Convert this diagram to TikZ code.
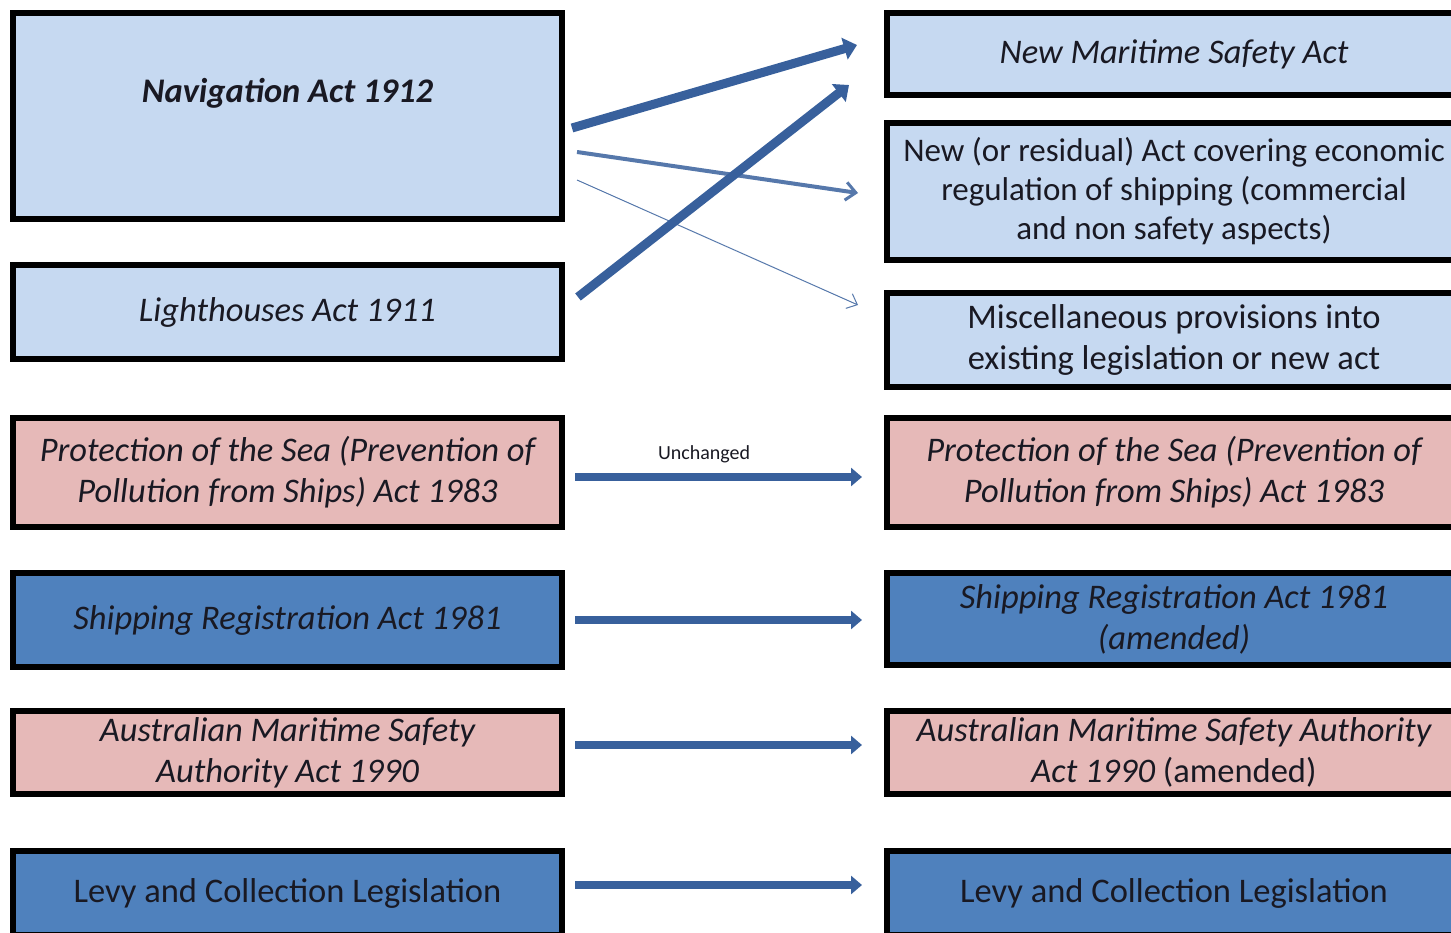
\documentclass[tikz,border=0pt]{standalone}
\usepackage{fontspec}
\setmainfont{Carlito}
\usetikzlibrary{arrows.meta}
\definecolor{paleblue}{RGB}{198,217,241}
\definecolor{palepink}{RGB}{230,185,184}
\definecolor{midblue}{RGB}{79,129,189}
\definecolor{arrowblue}{RGB}{56,96,156}
\definecolor{inkdark}{RGB}{25,25,35}

\tikzset{
  act/.style={draw=black, line width=6pt, inner sep=0pt, align=center, text=inkdark,
    font=\fontsize{34.5}{41}\selectfont\itshape},
  oldact/.style={act, minimum width=549pt},
  newact/.style={act, minimum width=574pt},
  light/.style={fill=paleblue},
  pink/.style={fill=palepink},
  dark/.style={fill=midblue},
  bigarrow/.style={draw=arrowblue, line width=9pt, -{Triangle[length=13pt,width=22pt]}},
  midarrow/.style={draw=arrowblue!85!white, line width=4pt, -{Straight Barb[length=10pt,width=18pt,line width=3pt]}},
  thinarrow/.style={draw=arrowblue!85!white, line width=1pt, -{Straight Barb[length=9pt,width=16pt,line width=1pt]}},
  keeparrow/.style={draw=arrowblue, line width=8pt, -{Triangle[length=11pt,width=18pt]}}
}

\begin{document}
\begin{tikzpicture}[x=1pt,y=-1pt]
  \path[use as bounding box, clip] (0,0) rectangle (1451,933);

  % old acts
  \node[oldact, light, minimum height=206pt, text depth=52pt, font=\fontsize{34.5}{41}\selectfont\bfseries\itshape] (nav) at (287.5,116) {Navigation Act 1912};
  \node[oldact, light, minimum height=94pt] (lights) at (287.5,312) {Lighthouses Act 1911};
  \node[oldact, pink, minimum height=109pt] (pollold) at (287.5,472.5) {Protection of the Sea (Prevention of\\Pollution from Ships) Act 1983};
  \node[oldact, dark, minimum height=94pt] (regold) at (287.5,620) {Shipping Registration Act 1981};
  \node[oldact, pink, minimum height=83pt] (amsaold) at (287.5,752.5) {Australian Maritime Safety\\Authority Act 1990};
  \node[oldact, dark, minimum height=84pt, font=\fontsize{34.5}{41}\selectfont] (levyold) at (287.5,893) {Levy and Collection Legislation};

  % new acts
  \node[newact, light, minimum height=82pt] (newmsa) at (1174,54) {New Maritime Safety Act};
  \node[newact, light, minimum height=137pt, font=\fontsize{33}{39}\selectfont] (newres) at (1174,191.5) {New (or residual) Act covering economic\\regulation of shipping (commercial\\and non safety aspects)};
  \node[newact, light, minimum height=94pt, font=\fontsize{34.5}{41}\selectfont] (misc) at (1174,340) {Miscellaneous provisions into\\existing legislation or new act};
  \node[newact, pink, minimum height=109pt] (pollnew) at (1174,472.5) {Protection of the Sea (Prevention of\\Pollution from Ships) Act 1983};
  \node[newact, dark, minimum height=92pt] (regnew) at (1174,619) {Shipping Registration Act 1981\\(amended)};
  \node[newact, pink, minimum height=83pt] (amsanew) at (1174,752.5) {Australian Maritime Safety Authority\\Act 1990 \upshape(amended)};
  \node[newact, dark, minimum height=84pt, font=\fontsize{34.5}{41}\selectfont] (levynew) at (1174,893) {Levy and Collection Legislation};

  % split of the old acts
  \draw[bigarrow] ([xshift=7pt,yshift=-12pt]nav.east) -- ([xshift=-27pt,yshift=9pt]newmsa.west);
  \draw[midarrow] ([xshift=12pt,yshift=-36pt]nav.east) -- ([xshift=-26pt,yshift=-1.5pt]newres.west);
  \draw[thinarrow] ([xshift=12pt,yshift=-64pt]nav.east) -- ([xshift=-26pt,yshift=35pt]misc.west);
  \draw[bigarrow] ([xshift=13pt,yshift=15pt]lights.east) -- ([xshift=-35pt,yshift=-31pt]newmsa.west);

  % carried over
  \draw[keeparrow] ([xshift=10pt,yshift=-4.5pt]pollold.east) -- node[above=7pt, pos=0.45, text=inkdark, font=\fontsize{20}{22}\selectfont] {Unchanged} ([xshift=-22pt,yshift=-4.5pt]pollnew.west);
  \draw[keeparrow] ([xshift=10pt]regold.east) -- ([xshift=-22pt,yshift=-1pt]regnew.west);
  \draw[keeparrow] ([xshift=10pt,yshift=7.5pt]amsaold.east) -- ([xshift=-22pt,yshift=7.5pt]amsanew.west);
  \draw[keeparrow] ([xshift=10pt,yshift=8pt]levyold.east) -- ([xshift=-22pt,yshift=8pt]levynew.west);
\end{tikzpicture}
\end{document}
